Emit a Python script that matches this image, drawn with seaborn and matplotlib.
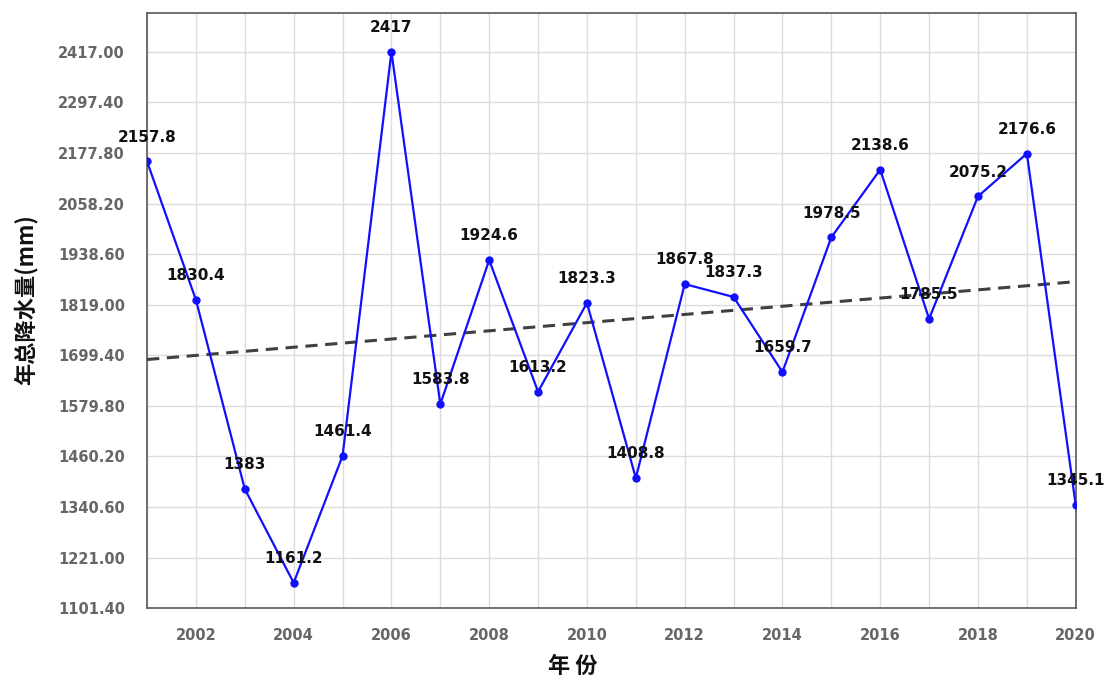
import numpy as np
import pandas as pd
import matplotlib
matplotlib.use("Agg")
import matplotlib.pyplot as plt
import seaborn as sns

years = list(range(2001, 2021))
precip = [2157.8, 1830.4, 1383, 1161.2, 1461.4, 2417, 1583.8, 1924.6, 1613.2, 1823.3,
          1408.8, 1867.8, 1837.3, 1659.7, 1978.5, 2138.6, 1785.5, 2075.2, 2176.6, 1345.1]
labels = ["2157.8", "1830.4", "1383", "1161.2", "1461.4", "2417", "1583.8", "1924.6",
          "1613.2", "1823.3", "1408.8", "1867.8", "1837.3", "1659.7", "1978.5", "2138.6",
          "1785.5", "2075.2", "2176.6", "1345.1"]
y_ticks = [1101.40, 1221.00, 1340.60, 1460.20, 1579.80, 1699.40, 1819.00, 1938.60,
           2058.20, 2177.80, 2297.40, 2417.00]
x_ticks = list(range(2002, 2021, 2))

df = pd.DataFrame({"year": years, "precip": precip})

sns.set_theme(style="white")
plt.rcParams["font.family"] = ["DejaVu Sans", "Noto Sans CJK SC"]

fig = plt.figure(figsize=(11.09, 6.84), dpi=100)
ax = fig.add_axes([0.1326, 0.111, 0.970 - 0.1326, 0.981 - 0.111])

# linear trend
coef = np.polyfit(df["year"], df["precip"], 1)
trend = np.polyval(coef, df["year"])
ax.plot(df["year"], trend, linestyle=(0, (4, 2.5)), color="#404040", lw=2.2, zorder=3)

sns.lineplot(data=df, x="year", y="precip", ax=ax, color="#1010ff", lw=1.6,
             marker="o", markersize=6, markeredgewidth=0, zorder=4)

for x, y, t in zip(years, precip, labels):
    ax.annotate(t, (x, y), xytext=(0, 12), textcoords="offset points",
                ha="center", va="bottom", fontsize=11, fontweight="bold",
                color="#111111", zorder=5)

ax.set_xlim(2001, 2020)
ax.set_ylim(1101.4, 2509)
ax.set_yticks(y_ticks)
ax.set_yticklabels([f"{v:.2f}" for v in y_ticks])
ax.set_xticks(years, minor=True)
ax.set_xticks(x_ticks)
ax.grid(True, which="both", axis="x", color="#dcdcdc", lw=1.0)
ax.grid(True, which="major", axis="y", color="#dcdcdc", lw=1.0)
ax.set_axisbelow(True)
ax.tick_params(axis="y", which="both", length=0, labelsize=10.5, labelcolor="#666666", pad=16)
ax.tick_params(axis="x", which="both", length=0, labelsize=10.5, labelcolor="#666666", pad=14)
for lab in ax.get_xticklabels() + ax.get_yticklabels():
    lab.set_fontweight("bold")
for s in ax.spines.values():
    s.set_color("#595959")
    s.set_linewidth(1.2)

ax.set_xlabel("年 份", fontsize=16, fontweight="bold", color="#111111",
              family=["Noto Sans CJK SC", "DejaVu Sans"])
ax.set_ylabel("年总降水量(mm)", fontsize=16, fontweight="bold", color="#111111",
              family=["Noto Sans CJK SC", "DejaVu Sans"])
ax.xaxis.set_label_coords(0.4586, -0.078)
ax.yaxis.set_label_coords(-0.118, 0.518)

fig.savefig("out.png", dpi=100)
